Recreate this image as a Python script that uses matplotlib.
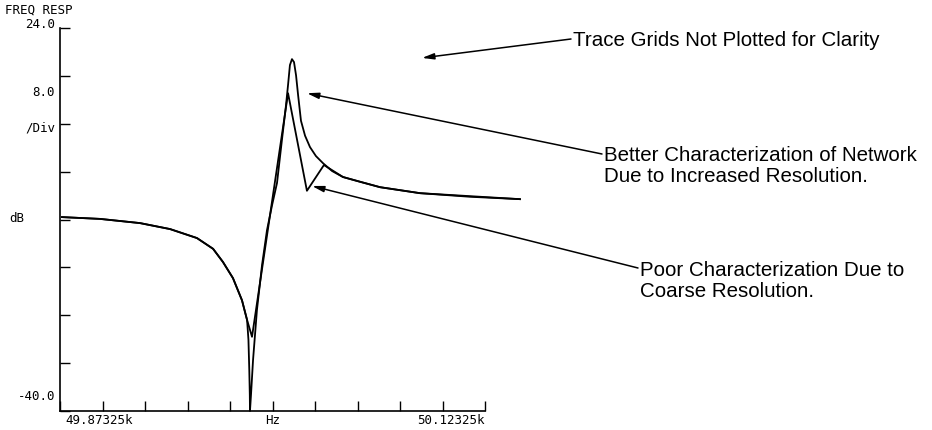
import matplotlib
matplotlib.use("Agg")
import matplotlib.pyplot as plt

# frequency axis (Hz) and magnitude (dB)
start_hz = 49873.25
stop_hz = 50123.25
db_top = 24.0
db_bottom = -40.0
db_per_div = 8.0

# fine resolution trace
hires_hz = [49874.4, 49896.8, 49920.3, 49938.0, 49953.8, 49963.3, 49969.1,
            49975.0, 49980.3, 49983.3, 49984.1, 49984.6, 49984.9, 49985.0,
            49985.6, 49986.8, 49989.1, 49992.1, 49995.0, 49998.0, 50000.9,
            50003.8, 50006.2, 50007.4, 50008.5, 50009.7, 50010.9, 50012.1,
            50013.3, 50015.0, 50017.4, 50020.3, 50023.8, 50028.0, 50033.3,
            50039.7, 50049.7, 50061.5, 50085.0, 50114.4, 50143.8]
hires_db = [-7.6, -7.9, -8.6, -9.6, -11.1, -12.9, -15.1,
            -17.8, -21.5, -24.8, -28.1, -33.2, -37.3, -40.0,
            -37.3, -31.5, -23.1, -15.6, -9.8, -5.6, -1.9,
            5.3, 11.1, 14.5, 17.8, 18.8, 18.3, 16.1,
            12.8, 8.5, 6.0, 4.1, 2.6, 1.4, 0.1,
            -0.9, -1.7, -2.6, -3.6, -4.2, -4.6]

# coarse resolution trace
lores_hz = [49874.4, 49896.8, 49920.3, 49938.0, 49953.8, 49963.3, 49969.1,
            49975.0, 49980.3, 49983.3, 49986.2, 50007.4, 50018.5, 50028.5,
            50039.7, 50061.5, 50085.0, 50143.8]
lores_db = [-7.6, -7.9, -8.6, -9.6, -11.1, -12.9, -15.1,
            -17.8, -21.5, -24.8, -27.6, 13.1, -3.2, 1.1,
            -0.9, -2.6, -3.6, -4.6]

note_texts = ["Trace Grids Not Plotted for Clarity",
              "Better Characterization of Network\nDue to Increased Resolution.",
              "Poor Characterization Due to\nCoarse Resolution."]
note_tips_hz = [50086.2, 50018.5, 50021.5]
note_tips_db = [19.0, 13.1, -2.4]


def fx(px):
    return px / W


def fy(py):
    return 1 - py / H


W, H = 932, 430
fig = plt.figure(figsize=(W / 100, H / 100), dpi=100)
ax = fig.add_axes([fx(60), 19 / H, 425 / W, 383 / H])

ax.plot(hires_hz, hires_db, color="black", lw=1.3, clip_on=False)
ax.plot(lores_hz, lores_db, color="black", lw=1.3, clip_on=False)

ax.set_xlim(start_hz, stop_hz)
ax.set_ylim(db_bottom, db_top)
span = stop_hz - start_hz
ax.set_xticks([start_hz + i * span / 10 for i in range(11)])
ax.set_yticks([db_bottom + i * db_per_div for i in range(9)])
ax.tick_params(direction="in", length=7.5, width=1.0, labelbottom=False,
               labelleft=False, color="black")
for s in ["top", "right"]:
    ax.spines[s].set_visible(False)
for s in ["left", "bottom"]:
    ax.spines[s].set_linewidth(1.2)

mono = dict(family="DejaVu Sans Mono", fontsize=9, color="black")
fig.text(fx(5), fy(10), "FREQ RESP", va="center", ha="left", **mono)
fig.text(fx(55), fy(24), "%.1f" % db_top, va="center", ha="right", **mono)
fig.text(fx(55), fy(93), "%.1f" % db_per_div, va="center", ha="right", **mono)
fig.text(fx(55), fy(128), "/Div", va="center", ha="right", **mono)
fig.text(fx(9), fy(218), "dB", va="center", ha="left", **mono)
fig.text(fx(55), fy(397), "%.1f" % db_bottom, va="center", ha="right", **mono)
fig.text(fx(65), fy(420), "%.5fk" % (start_hz / 1000), va="center", ha="left", **mono)
fig.text(fx(273), fy(420), "Hz", va="center", ha="center", **mono)
fig.text(fx(485), fy(420), "%.5fk" % (stop_hz / 1000), va="center", ha="right", **mono)

# text block centre and arrow tail, in pixels from top-left
text_pos = [(573, 41), (604, 166), (640, 281)]
tail_pos = [(571, 39), (602, 154), (638, 268)]
for txt, thz, tdb, tp, tl in zip(note_texts, note_tips_hz, note_tips_db,
                                  text_pos, tail_pos):
    fig.text(fx(tp[0]), fy(tp[1]), txt, ha="left", va="center",
             family="Liberation Sans", fontsize=14.8, linespacing=1.1,
             color="black")
    ax.annotate("", xy=(thz, tdb), xycoords="data",
                xytext=(fx(tl[0]), fy(tl[1])), textcoords="figure fraction",
                arrowprops=dict(arrowstyle="-|>,head_length=0.7,head_width=0.18",
                                color="black", lw=1.1, shrinkA=0, shrinkB=0))

fig.savefig("out.png", dpi=100)
